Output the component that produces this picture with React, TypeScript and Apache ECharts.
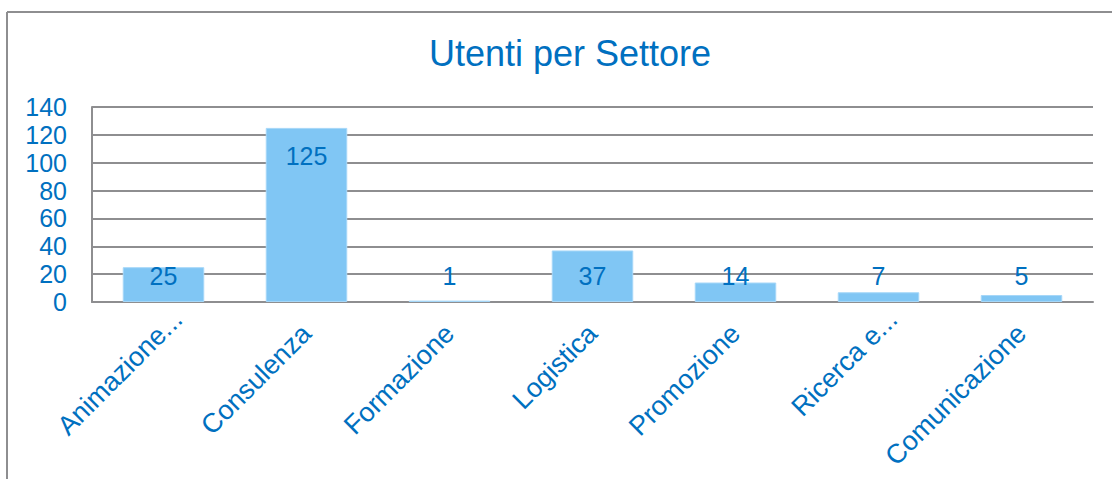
import React, { useEffect, useRef } from "react";
import * as echarts from "echarts";

const categories = [
  "Animazione...",
  "Consulenza",
  "Formazione",
  "Logistica",
  "Promozione",
  "Ricerca e...",
  "Comunicazione",
];
const values = [25, 125, 1, 37, 14, 7, 5];
const yTicks = { min: 0, max: 140, interval: 20 };
const titleText = "Utenti per Settore";

const BLUE = "#0070C0";
const GRAY = "#8E8E90";
const FONT = "'Liberation Sans', Arial, sans-serif";

export default function App() {
  const ref = useRef<HTMLDivElement>(null);
  useEffect(() => {
    if (!ref.current) return;
    const chart = echarts.init(ref.current, undefined, { renderer: "svg" });
    chart.setOption({
      animation: false,
      backgroundColor: "#ffffff",
      textStyle: { fontFamily: FONT },
      title: {
        text: titleText,
        left: 565,
        top: 30,
        textAlign: "center",
        textStyle: { color: BLUE, fontSize: 36, fontWeight: "normal", fontFamily: FONT },
      },
      graphic: [
        { type: "line", shape: { x1: 7, y1: 12, x2: 7, y2: 479 }, style: { stroke: GRAY, lineWidth: 2 } },
        { type: "line", shape: { x1: 7, y1: 12, x2: 1112, y2: 12 }, style: { stroke: GRAY, lineWidth: 2 } },
      ],
      grid: { left: 92, right: 19, top: 107, bottom: 177, containLabel: false },
      xAxis: {
        type: "category",
        data: categories.map((c) =>
          c.endsWith("...") ? { value: c, textStyle: { padding: [0, -20, 0, 0] } } : c
        ),
        axisLine: { show: true, lineStyle: { color: GRAY, width: 2 } },
        axisTick: { show: false },
        axisLabel: {
          interval: 0,
          rotate: 45,
          margin: 27,
          color: BLUE,
          fontSize: 27,
          fontFamily: FONT,
        },
      },
      yAxis: {
        type: "value",
        min: yTicks.min,
        max: yTicks.max,
        interval: yTicks.interval,
        axisLine: { show: true, lineStyle: { color: GRAY, width: 2 } },
        axisTick: { show: false },
        splitLine: { show: true, lineStyle: { color: GRAY, width: 2 } },
        axisLabel: { color: BLUE, fontSize: 25, margin: 25, fontFamily: FONT },
      },
      series: [
        {
          type: "bar",
          barWidth: "57%",
          data: values.map((v) => ({
            value: v,
            label:
              v > 100
                ? { position: "insideTop", distance: 16 }
                : { position: "insideBottom", distance: 14 },
          })),
          itemStyle: { color: "#80C6F4", borderColor: "#A6D7F8", borderWidth: 1 },
          label: {
            show: true,
            color: BLUE,
            fontSize: 25,
            fontFamily: FONT,
          },
        },
      ],
    });
    return () => chart.dispose();
  }, []);
  return (
    <div
      ref={ref}
      style={{ position: "fixed", left: 0, top: 0, width: 1112, height: 479 }}
    />
  );
}
